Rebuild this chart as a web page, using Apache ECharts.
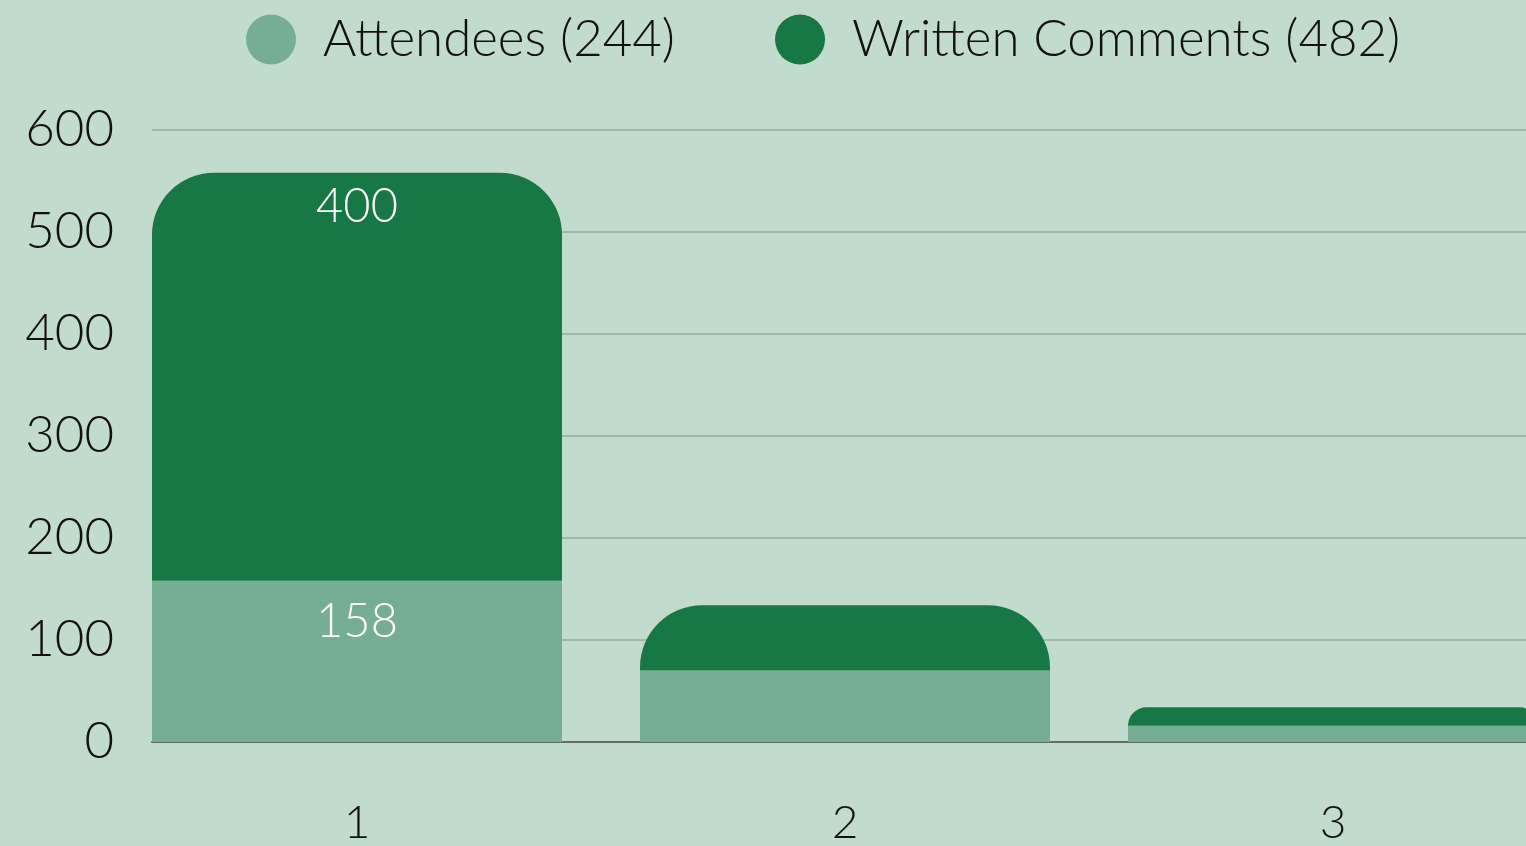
<!DOCTYPE html>
<html><head><meta charset="utf-8">
<script src="https://cdn.jsdelivr.net/npm/echarts@6/dist/echarts.min.js"></script>
<style>html,body{margin:0;padding:0;background:#c1dccd;}#c{width:1526px;height:846px;}</style>
</head><body><div id="c"></div>
<script>
const categories = ['1', '2', '3'];
const attendees = [158, 70, 16];
const written = [400, 64, 18];
const seriesNames = ['Attendees (244)', 'Written Comments (482)'];
const yTicks = { min: 0, max: 600, interval: 100 };

const FONT = 'Lato, "Open Sans", sans-serif';
const chart = echarts.init(document.getElementById('c'), null, { renderer: 'canvas' });
function withLabels(arr) {
  return arr.map((v, i) => i === 0 ? { value: v, label: { show: true } } : { value: v });
}
chart.setOption({
  backgroundColor: '#c1dccd',
  animation: false,
  textStyle: { fontFamily: FONT },
  legend: {
    left: 246, top: 14, padding: 0,
    icon: 'circle', itemWidth: 50, itemHeight: 50, itemGap: 100,
    textStyle: { fontSize: 51, color: '#111', fontFamily: FONT, fontWeight: 300, padding: [0, 0, 0, 22] },
    data: seriesNames
  },
  grid: [
    { left: 152, right: 0, top: 130, bottom: 104, containLabel: false, outerBoundsMode: 'none' },
    { left: 113, width: 1464, top: 130, bottom: 104, containLabel: false, outerBoundsMode: 'none' }
  ],
  xAxis: [
    { gridIndex: 0, type: 'category', data: categories, axisLine: { show: true, lineStyle: { color: '#5f6b64', width: 2 } },
      axisTick: { show: false }, axisLabel: { show: false }, splitLine: { show: false } },
    { gridIndex: 1, type: 'category', data: categories, axisLine: { show: false }, axisTick: { show: false },
      axisLabel: { fontSize: 46, color: '#111', fontFamily: FONT, fontWeight: 300, margin: 58 } }
  ],
  yAxis: [
    { gridIndex: 0, type: 'value', min: yTicks.min, max: yTicks.max, interval: yTicks.interval,
      axisLine: { show: false }, axisTick: { show: false },
      axisLabel: { fontSize: 51, color: '#111', fontFamily: FONT, fontWeight: 300, margin: 38 },
      splitLine: { lineStyle: { color: '#9fb9aa', width: 2 } } },
    { gridIndex: 1, type: 'value', min: yTicks.min, max: yTicks.max, interval: yTicks.interval, show: false,
      splitLine: { show: false } }
  ],
  series: [
    { name: seriesNames[0], type: 'bar', xAxisIndex: 1, yAxisIndex: 1, stack: 'a', barWidth: 410,
      itemStyle: { color: '#76ae93' }, z: 3,
      label: { show: false, position: 'insideTop', distance: 18, color: '#fff', fontSize: 47, fontFamily: FONT, fontWeight: 300 },
      data: withLabels(attendees) },
    { name: seriesNames[1], type: 'bar', xAxisIndex: 1, yAxisIndex: 1, stack: 'a', barWidth: 410,
      itemStyle: { color: '#177845', borderRadius: [62, 62, 0, 0] }, z: 3,
      label: { show: false, position: 'insideTop', distance: 11, color: '#fff', fontSize: 47, fontFamily: FONT, fontWeight: 300 },
      data: withLabels(written) }
  ]
});
</script></body></html>
